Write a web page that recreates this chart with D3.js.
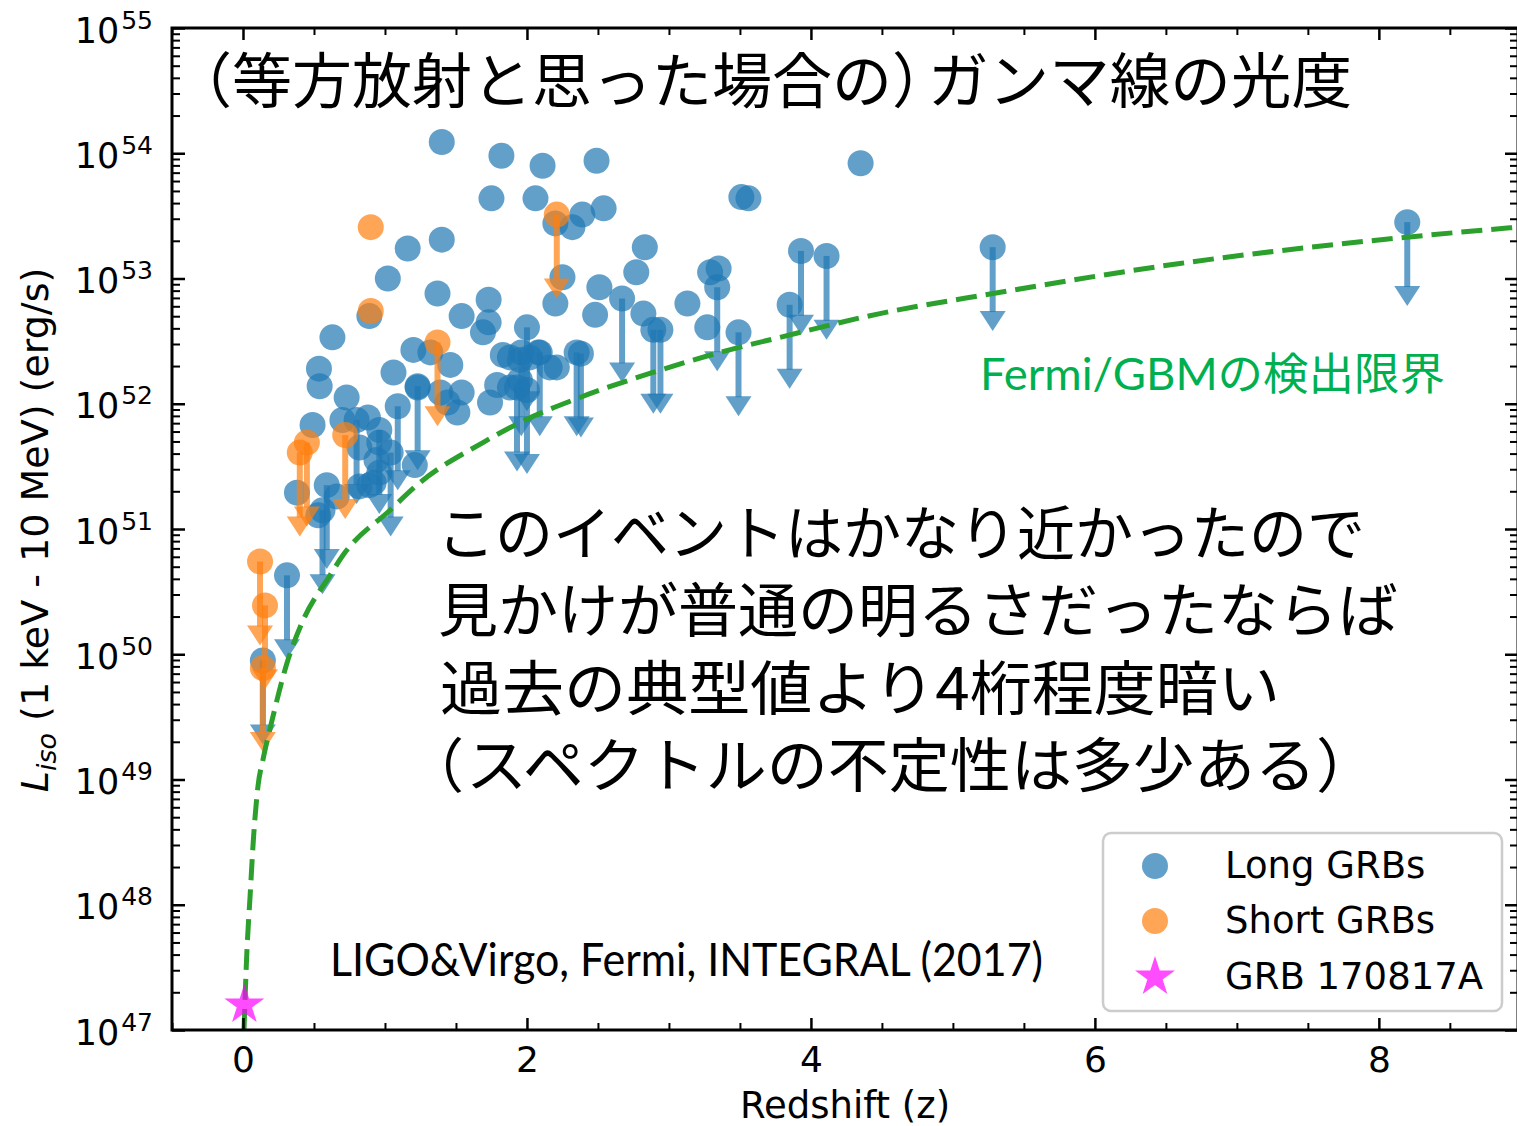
<!DOCTYPE html>
<html><head><meta charset="utf-8">
<script src="https://cdn.jsdelivr.net/npm/d3@7"></script>
<style>body{margin:0;background:#fff}</style>
</head><body>
<svg id="c" width="1517" height="1126" xmlns="http://www.w3.org/2000/svg"></svg>
<script>
// ---------------- DATA ----------------
// Long GRBs: redshift, log10(L_iso [erg/s]), upper limit flag
const longZ = [1.40,1.82,2.11,2.49,4.35,1.75,2.06,3.51,3.56,2.39,2.54,2.20,2.32,1.40,1.16,2.83,2.25,2.77,1.02,3.29,
  3.35,2.51,1.37,1.73,2.20,3.13,0.89,1.54,2.48,2.82,1.73,1.69,3.27,0.63,1.20,1.32,1.46,0.535,0.54,1.06,
  1.23,1.39,1.54,1.74,1.44,1.51,0.73,0.49,0.88,0.70,0.82,0.96,0.94,0.96,0.89,0.82,0.92,1.21,0.38,0.66,
  0.53,1.83,1.88,2.02,2.08,1.95,2.16,2.21,1.79,1.88,1.95,
  0.14,8.20,5.28,3.93,4.11,3.85,3.49,3.34,2.89,2.94,2.67,2.35,2.38,2.09,2.00,1.96,1.93,2.00,1.09,1.23,
  0.31,0.59,0.56,0.80,0.96,1.04];
const longLogL = [54.09,53.98,53.90,53.94,53.92,53.64,53.64,53.65,53.64,53.51,53.56,53.44,53.41,53.31,53.24,53.25,53.01,53.05,53.00,53.05,
  53.08,52.93,52.88,52.83,52.80,52.80,52.70,52.70,52.71,52.72,52.65,52.57,52.61,52.53,52.43,52.41,52.31,52.28,52.14,52.25,
  52.13,52.09,52.09,52.01,52.01,51.93,52.05,51.83,51.89,51.87,51.65,51.69,51.55,51.45,51.35,51.34,51.37,51.51,51.29,51.26,
  51.11,52.39,52.37,52.37,52.41,52.35,52.29,52.29,52.15,52.13,52.19,
  49.95,53.45,53.25,53.22,53.18,52.79,52.57,52.93,52.59,52.59,52.84,52.41,52.40,52.41,52.61,52.41,52.13,52.11,51.98,52.14,
  50.63,51.35,51.15,51.87,51.79,51.61];
const longUpper = [0,0,0,0,0,0,0,0,0,0,0,0,0,0,0,0,0,0,0,0,
  0,0,0,0,0,0,0,0,0,0,0,0,0,0,0,0,0,0,0,0,
  0,0,0,0,0,0,0,0,0,0,0,0,0,0,0,0,0,0,0,0,
  0,0,0,0,0,0,0,0,0,0,0,
  1,1,1,1,1,1,1,1,1,1,1,1,1,1,1,1,1,1,1,1,
  1,1,1,1,1,1];

// Short GRBs
const shortZ = [0.90,0.90,2.21,1.37,0.72,0.45,0.40,0.12,0.155,0.14];
const shortLogL = [53.41,52.74,53.51,52.49,51.75,51.69,51.61,50.74,50.39,49.89];
const shortUpper = [0,0,1,1,1,1,1,1,1,1];

// GRB 170817A
const starZ = [0.0098];
const starLogL = [47.20];

// Fermi/GBM detection limit
const limitZ = [0.007,0.028,0.049,0.075,0.106,0.141,0.204,0.31,0.415,0.613,0.704,1.035,1.246,1.69,1.95,2.373,2.887,3.359,3.782,4.486,5.282,6.599,8.197,8.98];
const limitLogL = [47.0,47.64,48.05,48.55,48.95,49.16,49.47,49.93,50.25,50.63,50.79,51.15,51.37,51.69,51.85,52.05,52.25,52.41,52.53,52.72,52.88,53.12,53.33,53.41];

// Ticks
const xMajorTicks = [0,2,4,6,8];
const xMinorTicks = [-0.5,0.5,1,1.5,2.5,3,3.5,4.5,5,5.5,6.5,7,7.5,8.5];
const yTickExps = [47,48,49,50,51,52,53,54,55];
const ARROW_DEX = 0.67;

// ---------------- LAYOUT ----------------
const svg = d3.select('#c');
const X0 = 172, X1 = 1518, Y0 = 28, Y1 = 1030;
const x = d3.scaleLinear().domain([-0.5, 8.98]).range([X0, X1]);
const y = d3.scaleLog().domain([1e47, 1e55]).range([Y1, Y0]);
const pw = e => Math.pow(10, e);
const FONT = "'DejaVu Sans', sans-serif";
const JP = "'Noto Sans CJK JP', sans-serif";
const BLUE = '#1f77b4', ORANGE = '#ff7f0e';

svg.append('rect').attr('width',1517).attr('height',1126).attr('fill','#fff');
svg.append('defs').append('clipPath').attr('id','clip')
  .append('rect').attr('x',X0).attr('y',Y0).attr('width',X1-X0).attr('height',Y1-Y0);
const plot = svg.append('g').attr('clip-path','url(#clip)');

function drawSeries(zs, ls, ups, color){
  const g = plot.append('g');
  zs.forEach((z,i)=>{
    const cx = x(z), cy = y(pw(ls[i]));
    g.append('circle').attr('cx',cx).attr('cy',cy).attr('r',13)
      .attr('fill',color).attr('fill-opacity',0.7);
    if(ups[i]){
      const ty = y(pw(ls[i]-ARROW_DEX));
      g.append('line').attr('x1',cx).attr('x2',cx).attr('y1',cy).attr('y2',ty-19)
        .attr('stroke',color).attr('stroke-width',6).attr('stroke-opacity',0.7);
      g.append('path').attr('d',`M${cx-13},${ty-20}L${cx+13},${ty-20}L${cx},${ty}Z`)
        .attr('fill',color).attr('fill-opacity',0.7);
    }
  });
}
drawSeries(longZ, longLogL, longUpper, BLUE);
drawSeries(shortZ, shortLogL, shortUpper, ORANGE);

const line = d3.line().x((d,i)=>x(limitZ[i])).y((d,i)=>y(pw(limitLogL[i]))).curve(d3.curveMonotoneX);
plot.append('path').attr('d', line(limitZ)).attr('fill','none')
  .attr('stroke','#2ca02c').attr('stroke-width',5).attr('stroke-dasharray','21,9');

const star = d3.symbol().type(d3.symbolStar).size(495);
plot.selectAll('.star').data(starZ).enter().append('path')
  .attr('transform',(d,i)=>`translate(${x(d)},${y(pw(starLogL[i]))})`)
  .attr('d',star()).attr('fill','#ff00ff').attr('fill-opacity',0.7);

// ---------------- AXES ----------------
function styleAxis(g, w){
  g.select('.domain').remove();
  g.selectAll('.tick line').attr('stroke','#000').attr('stroke-width',w);
}
const yMinor = [];
for(let e=47;e<55;e++) for(let k=2;k<=9;k++) yMinor.push(k*pw(e));

// bottom
const gb = svg.append('g').attr('transform',`translate(0,${Y1})`)
  .call(d3.axisBottom(x).tickValues(xMajorTicks).tickSize(-12).tickPadding(30).tickFormat(d3.format('d')));
styleAxis(gb,2.5);
gb.selectAll('.tick text').attr('font-family',FONT).attr('font-size',36).attr('fill','#000').attr('dy','0.71em').attr('y',16);
const gbm = svg.append('g').attr('transform',`translate(0,${Y1})`)
  .call(d3.axisBottom(x).tickValues(xMinorTicks).tickSize(-7).tickFormat(''));
styleAxis(gbm,2);
// top
const gt = svg.append('g').attr('transform',`translate(0,${Y0})`)
  .call(d3.axisTop(x).tickValues(xMajorTicks).tickSize(-12).tickFormat(''));
styleAxis(gt,2.5);
const gtm = svg.append('g').attr('transform',`translate(0,${Y0})`)
  .call(d3.axisTop(x).tickValues(xMinorTicks).tickSize(-7).tickFormat(''));
styleAxis(gtm,2);
// left
const gl = svg.append('g').attr('transform',`translate(${X0},0)`)
  .call(d3.axisLeft(y).tickValues(yTickExps.map(pw)).tickSize(-13).tickFormat(''));
styleAxis(gl,2.5);
gl.selectAll('.tick text').each(function(d){
  const t = d3.select(this);
  const e = Math.round(Math.log10(d));
  t.text(null).attr('x',-19).attr('y',14).attr('dy',null)
   .attr('font-family',FONT).attr('font-size',35).attr('fill','#000').attr('text-anchor','end');
  t.append('tspan').text('10');
  t.append('tspan').attr('dx',2).attr('dy',-14).attr('font-size',25).text(e);
});
const glm = svg.append('g').attr('transform',`translate(${X0},0)`)
  .call(d3.axisLeft(y).tickValues(yMinor).tickSize(-8).tickFormat(''));
styleAxis(glm,2);
// right
const gr = svg.append('g').attr('transform',`translate(${X1},0)`)
  .call(d3.axisRight(y).tickValues(yTickExps.map(pw)).tickSize(-13).tickFormat(''));
styleAxis(gr,2.5);
const grm = svg.append('g').attr('transform',`translate(${X1},0)`)
  .call(d3.axisRight(y).tickValues(yMinor).tickSize(-8).tickFormat(''));
styleAxis(grm,2);

// frame
svg.append('rect').attr('x',X0).attr('y',Y0).attr('width',X1-X0).attr('height',Y1-Y0)
  .attr('fill','none').attr('stroke','#000').attr('stroke-width',3);

// axis labels
svg.append('text').attr('x',845).attr('y',1118).attr('text-anchor','middle')
  .attr('font-family',FONT).attr('font-size',37).attr('fill','#000').text('Redshift (z)');
const yl = svg.append('text').attr('transform','translate(48,530) rotate(-90)').attr('text-anchor','middle')
  .attr('font-family',FONT).attr('font-size',38).attr('fill','#000');
yl.append('tspan').attr('font-style','italic').text('L');
yl.append('tspan').attr('font-style','italic').attr('font-size',27).attr('dy',8).text('iso');
yl.append('tspan').attr('dy',-8).text(' (1 keV - 10 MeV) (erg/s)');

// ---------------- LEGEND ----------------
const lg = svg.append('g');
lg.append('rect').attr('x',1103).attr('y',833).attr('width',399).attr('height',178).attr('rx',8)
  .attr('fill','#fff').attr('fill-opacity',0.8).attr('stroke','#cccccc').attr('stroke-width',2.5);
const legendItems = ['Long GRBs','Short GRBs','GRB 170817A'];
const legendY = [866,921,977];
lg.append('circle').attr('cx',1155).attr('cy',legendY[0]).attr('r',13).attr('fill',BLUE).attr('fill-opacity',0.7);
lg.append('circle').attr('cx',1155).attr('cy',legendY[1]).attr('r',13).attr('fill',ORANGE).attr('fill-opacity',0.7);
lg.append('path').attr('transform',`translate(1155,${legendY[2]})`).attr('d',star()).attr('fill','#ff00ff').attr('fill-opacity',0.7);
legendItems.forEach((s,i)=>{
  lg.append('text').attr('x',1225).attr('y',legendY[i]+12).attr('font-family',FONT).attr('font-size',37)
    .attr('fill','#000').text(s);
});

// ---------------- ANNOTATIONS ----------------
svg.append('text').attr('x',172).attr('y',103).attr('font-family',JP).attr('font-size',60).attr('fill','#000')
  .text('（等方放射と思った場合の）');
svg.append('text').attr('x',928).attr('y',103).attr('font-family',JP).attr('font-size',60).attr('fill','#000')
  .attr('textLength',424).attr('lengthAdjust','spacingAndGlyphs').text('ガンマ線の光度');

const lines = ['このイベントはかなり近かったので','見かけが普通の明るさだったならば','過去の典型値より4桁程度暗い'];
const lineX = [437,438,440];
const lineY = [555,632,710];
const lineW = [928,960,840];
lines.forEach((s,i)=>{
  svg.append('text').attr('x',lineX[i]).attr('y',lineY[i]).attr('font-family',JP).attr('font-size',59)
    .attr('fill','#000').attr('textLength',lineW[i]).attr('lengthAdjust','spacingAndGlyphs').text(s);
});
svg.append('text').attr('x',405).attr('y',787).attr('font-family',JP).attr('font-size',59).attr('fill','#000').text('（');
svg.append('text').attr('x',466).attr('y',787).attr('font-family',JP).attr('font-size',59).attr('fill','#000')
  .attr('textLength',911).attr('lengthAdjust','spacingAndGlyphs').text('スペクトルの不定性は多少ある）');

svg.append('text').attr('x',980).attr('y',390).attr('font-family',"Lato, 'Noto Sans CJK JP', sans-serif")
  .attr('font-size',44).attr('fill','#00b050').attr('textLength',465).attr('lengthAdjust','spacingAndGlyphs')
  .text('Fermi/GBMの検出限界');
svg.append('text').attr('x',330).attr('y',976).attr('font-family',"Lato, sans-serif")
  .attr('font-size',46).attr('fill','#000').attr('textLength',713).attr('lengthAdjust','spacingAndGlyphs')
  .text('LIGO&Virgo, Fermi, INTEGRAL (2017)');
</script>
</body></html>
